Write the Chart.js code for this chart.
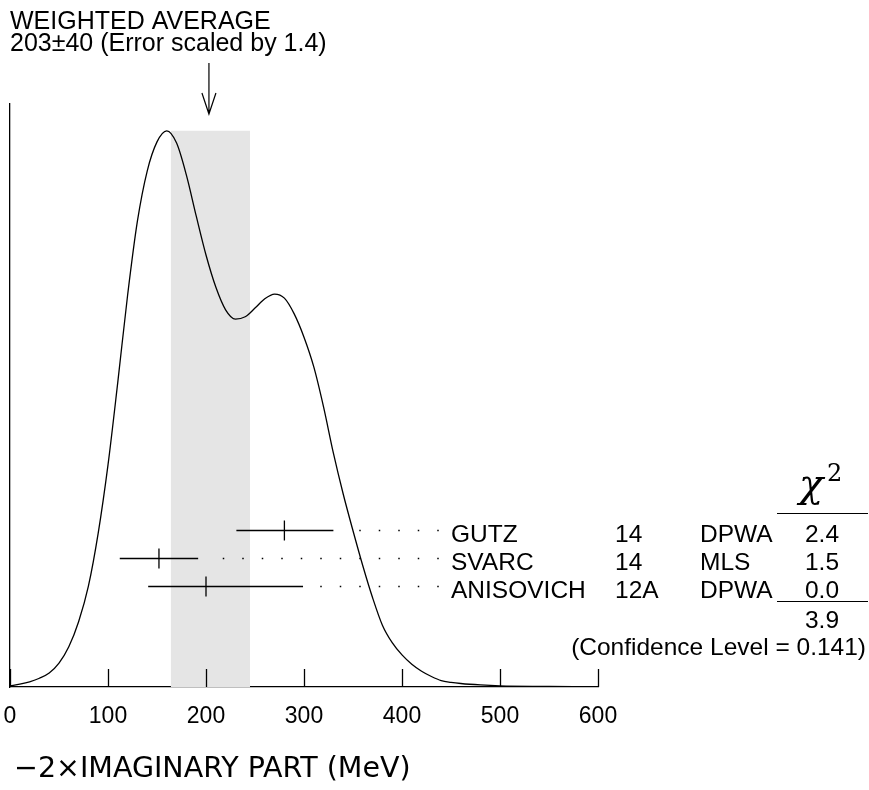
<!DOCTYPE html>
<html lang="en">
<head>
  <meta charset="UTF-8">
  <title>Ideogram - weighted average</title>
  <script src="https://cdn.jsdelivr.net/npm/chart.js"></script>
  <style>
    html, body { margin: 0; padding: 0; background: #fff; }
    #wrap { width: 869px; height: 790px; }
  </style>
</head>
<body>
  <div id="wrap"><canvas id="ideograma" width="869" height="790"></canvas></div>

  <script>
    // ideogram curve (arbitrary units, axis top = 100)
    const curveX = [0, 10, 20, 30, 40, 50, 60, 70, 80, 90, 100, 110, 120, 130, 140, 150, 160, 170, 180, 190,
                    200, 210, 220, 230, 240, 250, 260, 270, 280, 290, 300, 310, 320, 330, 340, 350, 360, 370,
                    380, 390, 400, 410, 420, 430, 440, 450, 460, 480, 500, 550, 600];
    const curveY = [0.2, 0.5, 0.9, 1.5, 2.4, 4.1, 6.9, 11.2, 17.3, 26.4, 38.1, 52.3, 67.2, 79.9, 88.5, 93.5, 95.4, 93.3, 87.8, 80.8,
                    74.1, 68.6, 64.7, 63.1, 63.5, 65.0, 66.6, 67.4, 66.7, 64.0, 60.0, 54.9, 48.0, 40.1, 33.1, 26.8, 20.8, 15.3,
                    10.6, 7.6, 5.5, 3.9, 2.7, 1.8, 1.1, 0.8, 0.6, 0.35, 0.2, 0.1, 0.0];

    const bandRange = [164, 245];
    const bandTop = 95.4;
    const avgValue = 203;

    const expNames = ['GUTZ', 'SVARC', 'ANISOVICH'];
    const expYears = ['14', '14', '12A'];
    const expMethods = ['DPWA', 'MLS', 'DPWA'];
    const expValues = [280, 152, 200];
    const expLow = [231, 112, 141];
    const expHigh = [330, 192, 299];
    const chi2 = ['2.4', '1.5', '0.0'];
    const chi2Total = '3.9';
    const confLevel = '0.141';

    const xTicks = [0, 100, 200, 300, 400, 500, 600];

    const sans = '"Liberation Sans", Arial, sans-serif';
    const rowY = [530, 558, 586];   // pixel rows of the error bars

    const extras = {
      id: 'extras',
      afterDatasetsDraw(chart) {
        const { ctx, chartArea, scales: { x } } = chart;
        ctx.save();
        ctx.strokeStyle = '#000';
        ctx.fillStyle = '#000';
        ctx.lineWidth = 1.3;

        // tick marks pointing up into the plot
        xTicks.forEach(v => {
          const px = Math.round(x.getPixelForValue(v)) + 0.5;
          ctx.beginPath();
          ctx.moveTo(px, chartArea.bottom);
          ctx.lineTo(px, chartArea.bottom - 18);
          ctx.stroke();
        });

        // arrow for the weighted average
        const ax = x.getPixelForValue(avgValue);
        ctx.lineWidth = 1.2;
        ctx.beginPath();
        ctx.moveTo(ax, 63);
        ctx.lineTo(ax, 114);
        ctx.moveTo(ax - 7, 93);
        ctx.lineTo(ax, 114);
        ctx.lineTo(ax + 7, 93);
        ctx.stroke();

        // error bars, leader dots and labels
        const labelX = 451;
        ctx.font = '24.5px ' + sans;
        ctx.textBaseline = 'alphabetic';
        expNames.forEach((name, i) => {
          const y = rowY[i] + 0.5;
          const x0 = x.getPixelForValue(expLow[i]);
          const x1 = x.getPixelForValue(expHigh[i]);
          const xc = x.getPixelForValue(expValues[i]);
          ctx.lineWidth = 1.3;
          ctx.beginPath();
          ctx.moveTo(x0, y);
          ctx.lineTo(x1, y);
          ctx.moveTo(xc, y - 10);
          ctx.lineTo(xc, y + 10);
          ctx.stroke();

          // dots, counted back from the label
          for (let d = 438; d > x1 + 14; d -= 19.5) {
            ctx.fillRect(d - 0.75, y - 0.75, 1.5, 1.5);
          }

          const base = rowY[i] + 12;
          ctx.textAlign = 'left';
          ctx.fillText(name, labelX, base);
          ctx.fillText(expYears[i], 615, base);
          ctx.fillText(expMethods[i], 700, base);
          ctx.textAlign = 'center';
          ctx.fillText(chi2[i], 822, base);
        });

        // chi2 column
        ctx.lineWidth = 1.2;
        ctx.beginPath();
        ctx.moveTo(777, 513.5);
        ctx.lineTo(868, 513.5);
        ctx.moveTo(777, 601.5);
        ctx.lineTo(868, 601.5);
        ctx.stroke();
        ctx.textAlign = 'center';
        ctx.fillText(chi2Total, 822, 628);
        ctx.textAlign = 'right';
        ctx.fillText('(Confidence Level = ' + confLevel + ')', 866, 655);

        ctx.textAlign = 'left';
        ctx.font = 'italic 40px "DejaVu Serif", serif';
        ctx.fillText('\u03C7', 799, 497);
        ctx.font = '24px "DejaVu Serif", serif';
        ctx.fillText('2', 827, 481);

        // header
        ctx.font = '25px ' + sans;
        ctx.fillText('WEIGHTED AVERAGE', 10, 29);
        ctx.fillText('203\u00B140 (Error scaled by 1.4)', 10, 51);

        // axis title
        ctx.font = '28.5px "DejaVu Sans", sans-serif';
        ctx.fillText('\u22122\u00D7IMAGINARY PART (MeV)', 14, 777);
        ctx.restore();
      }
    };

    new Chart(document.getElementById('ideograma'), {
      type: 'line',
      data: {
        datasets: [
          {
            label: 'ideogram',
            data: curveX.map((v, i) => ({ x: v, y: curveY[i] })),
            borderColor: '#000',
            borderWidth: 1.3,
            pointRadius: 0,
            cubicInterpolationMode: 'monotone',
            fill: false,
            order: 1
          },
          {
            label: 'average band',
            data: bandRange.map(v => ({ x: v, y: bandTop })),
            borderWidth: 0,
            borderColor: 'rgba(0,0,0,0)',
            backgroundColor: '#e5e5e5',
            pointRadius: 0,
            fill: 'origin',
            order: 2
          }
        ]
      },
      options: {
        responsive: false,
        animation: false,
        devicePixelRatio: 1,
        layout: { padding: { left: 10, right: 271, top: 104, bottom: 53 } },
        plugins: { legend: { display: false }, tooltip: { enabled: false } },
        scales: {
          x: {
            type: 'linear',
            min: 0,
            max: 600,
            afterFit: s => { s.height = 50; s.paddingLeft = 0; s.paddingRight = 0; },
            afterBuildTicks: s => { s.ticks = xTicks.map(v => ({ value: v })); },
            grid: { display: true, drawOnChartArea: false, drawTicks: false },
            border: { display: true, color: '#000', width: 1.3 },
            ticks: { color: '#000', font: { family: sans, size: 23 }, padding: 16, maxRotation: 0 }
          },
          y: {
            min: 0,
            max: 100,
            afterFit: s => { s.width = 0; s.paddingTop = 0; s.paddingBottom = 0; },
            grid: { display: true, drawOnChartArea: false, drawTicks: false },
            border: { display: true, color: '#000', width: 1.3 },
            ticks: { display: false }
          }
        }
      },
      plugins: [extras]
    });
  </script>
</body>
</html>
